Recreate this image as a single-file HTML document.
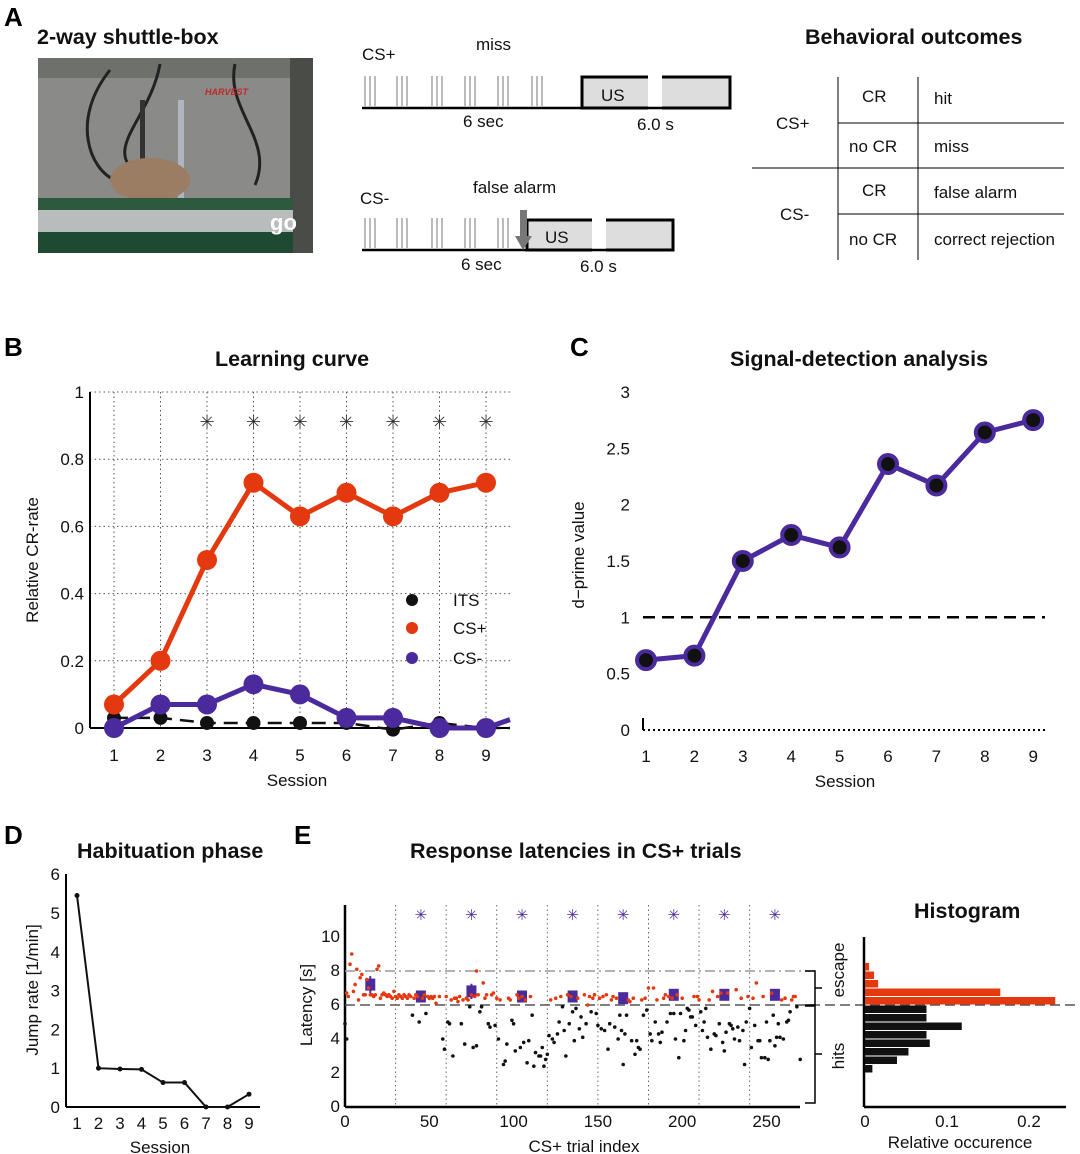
<!DOCTYPE html>
<html><head><meta charset="utf-8"><style>
body{margin:0;background:#fff;}
svg{display:block;font-family:"Liberation Sans",Arial,sans-serif;}
.t{font-size:17px;fill:#111}
.h{font-size:21.5px;font-weight:bold;fill:#111}
.L{font-size:26px;font-weight:bold;fill:#000}
</style></head><body>
<svg id="fig" width="1080" height="1154" viewBox="0 0 1080 1154" xmlns="http://www.w3.org/2000/svg">
<g>
<text class="L" x="4" y="26">A</text>
<text class="h" x="37" y="44">2-way shuttle-box</text>
<g>
<rect x="38" y="58" width="275" height="195" fill="#8a8b88"/>
<rect x="38" y="58" width="275" height="20" fill="#6e706c"/>
<rect x="290" y="58" width="23" height="195" fill="#4a4c48"/>
<path d="M110 70 C70 120 90 170 115 180 M160 64 C150 120 100 150 140 175 M235 64 C225 110 275 140 255 185" stroke="#222" stroke-width="3" fill="none"/>
<rect x="178" y="100" width="6" height="130" fill="#b0b4c0"/>
<rect x="140" y="100" width="5" height="110" fill="#333"/>
<text x="205" y="95" font-size="9" font-weight="bold" fill="#c0282a" font-style="italic">HARVEST</text>
<ellipse cx="150" cy="180" rx="40" ry="22" fill="#9a7d62"/>
<rect x="38" y="198" width="255" height="12" fill="#2d5a3e"/>
<rect x="38" y="210" width="255" height="22" fill="#b9bcbc"/>
<rect x="38" y="232" width="255" height="21" fill="#1f4a32"/>
<text x="270" y="230" font-size="22" font-weight="bold" fill="#fff">go</text>
</g>
<g stroke="#bbb" stroke-width="2">
<line x1="365" y1="76" x2="365" y2="106"/><line x1="370" y1="76" x2="370" y2="106"/><line x1="375" y1="76" x2="375" y2="106"/>
<line x1="397" y1="76" x2="397" y2="106"/><line x1="402" y1="76" x2="402" y2="106"/><line x1="407" y1="76" x2="407" y2="106"/>
<line x1="432" y1="76" x2="432" y2="106"/><line x1="437" y1="76" x2="437" y2="106"/><line x1="442" y1="76" x2="442" y2="106"/>
<line x1="465" y1="76" x2="465" y2="106"/><line x1="470" y1="76" x2="470" y2="106"/><line x1="475" y1="76" x2="475" y2="106"/>
<line x1="498" y1="76" x2="498" y2="106"/><line x1="503" y1="76" x2="503" y2="106"/><line x1="508" y1="76" x2="508" y2="106"/>
<line x1="532" y1="76" x2="532" y2="106"/><line x1="537" y1="76" x2="537" y2="106"/><line x1="542" y1="76" x2="542" y2="106"/>
</g>
<rect x="582" y="77" width="148" height="31" fill="#ddd" stroke="#000" stroke-width="3"/>
<rect x="648" y="74" width="14" height="36" fill="#fff"/>
<line x1="362" y1="108" x2="730" y2="108" stroke="#000" stroke-width="2.5"/>
<text class="t" x="362" y="60">CS+</text><text class="t" x="476" y="50">miss</text>
<text class="t" x="601" y="101" font-size="18">US</text>
<text class="t" x="463" y="127">6 sec</text><text class="t" x="637" y="130">6.0 s</text>
<g stroke="#bbb" stroke-width="2">
<line x1="365" y1="218" x2="365" y2="248"/><line x1="370" y1="218" x2="370" y2="248"/><line x1="375" y1="218" x2="375" y2="248"/>
<line x1="397" y1="218" x2="397" y2="248"/><line x1="402" y1="218" x2="402" y2="248"/><line x1="407" y1="218" x2="407" y2="248"/>
<line x1="432" y1="218" x2="432" y2="248"/><line x1="437" y1="218" x2="437" y2="248"/><line x1="442" y1="218" x2="442" y2="248"/>
<line x1="465" y1="218" x2="465" y2="248"/><line x1="470" y1="218" x2="470" y2="248"/><line x1="475" y1="218" x2="475" y2="248"/>
<line x1="498" y1="218" x2="498" y2="248"/><line x1="503" y1="218" x2="503" y2="248"/><line x1="508" y1="218" x2="508" y2="248"/>
</g>
<rect x="527" y="220" width="146" height="30" fill="#ddd" stroke="#000" stroke-width="3"/>
<rect x="592" y="217" width="14" height="36" fill="#fff"/>
<line x1="362" y1="250" x2="673" y2="250" stroke="#000" stroke-width="2.5"/>
<rect x="520" y="210" width="7" height="28" fill="#777"/><polygon points="515,236 532,236 523,250" fill="#777"/>
<text class="t" x="360" y="204">CS-</text><text class="t" x="473" y="193">false alarm</text>
<text class="t" x="545" y="243" font-size="18">US</text>
<text class="t" x="461" y="270">6 sec</text><text class="t" x="580" y="272">6.0 s</text>
<g>
<text class="h" x="805" y="44">Behavioral outcomes</text>
<g stroke="#000" stroke-width="1">
<line x1="838" y1="77" x2="838" y2="260"/><line x1="918" y1="77" x2="918" y2="260"/>
<line x1="838" y1="123" x2="1064" y2="123"/><line x1="752" y1="168" x2="1064" y2="168"/><line x1="838" y1="214" x2="1064" y2="214"/>
</g>
<text class="t" x="776" y="129">CS+</text><text class="t" x="780" y="220">CS-</text>
<text class="t" x="862" y="102">CR</text><text class="t" x="849" y="152">no CR</text>
<text class="t" x="862" y="196">CR</text><text class="t" x="849" y="245">no CR</text>
<text class="t" x="934" y="104">hit</text><text class="t" x="934" y="152">miss</text>
<text class="t" x="934" y="198">false alarm</text><text class="t" x="934" y="245">correct rejection</text>
</g>
</g>
<text class="L" x="4" y="356">B</text>
<text class="h" x="215" y="366">Learning curve</text>
<text class="L" x="570" y="356">C</text>
<text class="h" x="730" y="366">Signal-detection analysis</text>
<text class="L" x="4" y="844">D</text>
<text class="h" x="77" y="858">Habituation phase</text>
<text class="L" x="294" y="844">E</text>
<text class="h" x="410" y="858">Response latencies in CS+ trials</text>
<text class="h" x="914" y="918" font-size="19">Histogram</text>
<g id="gB"></g>
<g id="gC"></g>
<g id="gD"></g>
<g id="gE"></g>
<g id="gH"></g>
</svg>
<script>
const sessions=[1,2,3,4,5,6,7,8,9];
const csPlus=[0.07,0.2,0.5,0.73,0.63,0.7,0.63,0.7,0.73];
const csMinus=[0,0.07,0.07,0.13,0.1,0.03,0.03,0,0];
const its=[0.03,0.03,0.015,0.015,0.015,0.015,-0.005,0.015,0];
const sigSessions=[3,4,5,6,7,8,9];
const bTicks=[0,0.2,0.4,0.6,0.8,1];
const dprime=[0.62,0.66,1.5,1.73,1.62,2.36,2.17,2.64,2.75];
const cTicks=[0,0.5,1,1.5,2,2.5,3];
const jumpRate=[5.45,1,0.98,0.97,0.63,0.63,0,0,0.33];
const dTicks=[0,1,2,3,4,5,6];
const hitTrials=[0,1,40,44,48,58,59,61,62,64,69,71,74,76,78,80,81,85,86,89,91,94,95,96,99,100,101,104,106,108,109,111,112,113,115,116,117,118,119,120,121,123,124,126,127,129,130,131,133,135,136,137,139,140,141,143,146,149,150,152,154,156,157,160,162,163,164,165,166,167,170,172,173,174,175,177,179,181,182,184,186,187,188,191,193,195,196,198,199,201,202,203,204,205,206,208,211,212,213,214,215,217,219,220,222,224,225,226,228,229,230,231,233,234,236,237,238,240,241,243,245,246,247,249,250,251,252,254,255,256,257,258,260,262,263,264,268,270];
const hitLat=[4.9,4.0,5.4,5.0,5.5,4.0,3.4,5.0,4.9,3.0,4.9,3.7,5.9,3.5,3.6,5.6,5.9,4.9,4.7,4.8,4.0,2.5,2.7,3.7,5.1,4.9,3.3,3.5,3.8,2.6,3.9,5.4,2.4,3.2,3.0,3.0,3.5,2.4,2.8,3.1,4.2,4.0,3.8,4.3,5.0,5.9,4.5,3.0,4.9,5.6,3.9,5.8,4.6,5.3,4.1,4.9,5.6,5.5,4.8,4.6,4.5,3.4,4.9,4.7,4.0,5.4,4.5,2.5,4.3,5.4,3.9,3.1,3.9,3.5,3.4,5.4,5.7,4.3,3.9,5.0,4.3,3.8,4.4,5.0,5.5,5.5,4.0,2.9,5.5,3.9,4.5,5.8,5.7,5.3,5.3,4.8,5.6,4.5,5.0,5.8,4.1,3.4,4.3,4.2,4.9,3.8,3.3,4.4,4.9,4.8,4.6,4.0,4.7,3.9,4.5,2.5,5.0,5.8,3.5,4.8,3.9,3.9,2.9,2.9,5.0,2.8,3.9,5.4,3.6,4.1,4.9,4.1,4.0,5.0,5.1,5.6,5.9,2.8];
const escTrials=[1,2,3,4,5,6,7,8,9,10,11,12,13,14,15,16,17,18,19,20,21,22,23,24,25,26,27,28,29,30,31,32,33,34,35,36,37,38,39,41,42,43,46,47,49,50,51,52,53,54,56,60,63,65,66,67,68,70,72,73,75,77,78,79,82,83,84,87,88,90,92,97,98,102,103,105,107,110,122,125,128,132,134,138,142,144,145,147,148,151,153,155,158,159,161,168,169,171,176,178,180,183,185,189,190,192,194,197,200,207,209,210,216,218,221,223,227,232,235,239,242,244,248,253,259,261,265,266,267];
const escLat=[6.7,6.5,8.4,9.0,6.8,7.2,8.1,6.3,7.6,7.8,6.6,6.6,7.5,7.0,6.6,6.6,6.5,6.6,8.1,8.3,6.4,6.6,6.7,6.6,6.5,6.6,6.5,6.4,6.8,6.5,6.4,6.6,6.5,6.4,6.6,6.5,6.4,6.6,6.5,6.4,6.6,6.5,6.4,6.6,6.5,6.4,6.5,6.4,6.5,6.1,6.5,6.5,6.3,6.4,6.4,6.2,6.5,6.3,6.4,6.3,6.6,6.5,8.0,6.6,7.3,6.4,6.6,6.6,6.7,6.4,6.3,6.4,6.3,6.6,6.4,6.5,6.3,6.5,6.3,6.4,6.5,6.6,6.5,6.4,6.6,6.0,6.5,6.4,6.6,6.4,6.5,6.6,6.3,6.5,6.4,6.3,6.2,6.4,6.3,6.4,7.0,7.0,6.3,6.4,6.6,6.5,6.4,6.6,6.4,6.5,6.5,6.3,6.3,6.8,6.5,6.7,6.7,6.9,6.4,6.5,6.4,7.3,6.5,6.7,6.3,6.4,6.3,6.5,6.5];
const blockTrials=[15,45,75,105,135,165,195,225,255];
const blockMean=[7.2,6.5,6.8,6.5,6.5,6.4,6.6,6.6,6.6];
const blockErr=[0.5,0.15,0.45,0.15,0.15,0.15,0.2,0.15,0.15];
const starTrials=[45,75,105,135,165,195,225,255];
const eXTicks=[0,50,100,150,200,250];
const eYTicks=[0,2,4,6,8,10];
const escBins=[8.25,7.75,7.25,6.75,6.25];
const escFreq=[0.005,0.011,0.016,0.165,0.232];
const hitBins=[5.75,5.25,4.75,4.25,3.75,3.25,2.75,2.25];
const hitFreq=[0.075,0.075,0.118,0.075,0.079,0.053,0.039,0.009];
const hTicks=[0,0.1,0.2];

const NS='http://www.w3.org/2000/svg';
function mk(p,tag,at,txt){const e=document.createElementNS(NS,tag);for(const k in at)e.setAttribute(k,at[k]);if(txt!==undefined)e.textContent=txt;p.appendChild(e);return e;}
const OR='#e4380e',PU='#4b2a9e';

(function(){
const g=document.getElementById('gB');
const x=s=>114+(s-1)*46.5, y=v=>728-v*336;
bTicks.forEach(t=>{if(t>0){const l=mk(g,'line',{x1:90,x2:510,y1:y(t),y2:y(t),stroke:'#555','stroke-dasharray':'1.5 3'});}
const tx=mk(g,'text',{x:84,y:y(t)+6,'text-anchor':'end',class:'t'},String(t));});
sessions.forEach(s=>{const l=mk(g,'line',{x1:x(s),x2:x(s),y1:392,y2:728,stroke:'#555','stroke-dasharray':'1.5 3'});
const tx=mk(g,'text',{x:x(s),y:761,'text-anchor':'middle',class:'t'},String(s));});
mk(g,'line',{x1:90,x2:90,y1:392,y2:728,stroke:'#000','stroke-width':2});
mk(g,'line',{x1:90,x2:510,y1:728,y2:728,stroke:'#000','stroke-width':2});
const xl=mk(g,'text',{x:297,y:786,'text-anchor':'middle',class:'t'},'Session');
const yl=mk(g,'text',{x:38,y:560,'text-anchor':'middle',class:'t',transform:'rotate(-90 38 560)'},'Relative CR-rate');
sigSessions.forEach(s=>{const a=mk(g,'text',{x:x(s),y:428,'text-anchor':'middle','font-size':'18',fill:'#333'},'✳');});
const pl=(vals,col,w,dash,extra)=>{let pts=sessions.map((s,i)=>x(s)+','+y(vals[i]));if(extra)pts.push(extra);const p=mk(g,'polyline',{points:pts.join(' '),fill:'none',stroke:col,'stroke-width':w});if(dash)p.setAttribute('stroke-dasharray',dash);return p;};
let p=pl(its,'#111',2.5,'14 8','510,'+y(0));
sessions.forEach((s,i)=>{const c=mk(g,'circle',{cx:x(s),cy:y(its[i]),r:7,fill:'#111'});});
p=pl(csPlus,OR,5);
sessions.forEach((s,i)=>{const c=mk(g,'circle',{cx:x(s),cy:y(csPlus[i]),r:10,fill:OR});});
p=pl(csMinus,PU,5,null,'510,'+y(0.025));
sessions.forEach((s,i)=>{const c=mk(g,'circle',{cx:x(s),cy:y(csMinus[i]),r:10,fill:PU});});
[['ITS','#111',600],['CS+',OR,628],['CS-',PU,658]].forEach(([n,c,yy])=>{const lg=mk(g,'g',{});
mk(lg,'circle',{cx:412,cy:yy,r:6,fill:c});mk(lg,'text',{x:453,y:yy+6,class:'t','font-size':'15'},n);});
})();

(function(){
const g=document.getElementById('gC');
const x=s=>646+(s-1)*48.4, y=v=>730-v*112.7;
cTicks.forEach(t=>{const tx=mk(g,'text',{x:630,y:y(t)+6,'text-anchor':'end',class:'t'},String(t));});
sessions.forEach(s=>{const tx=mk(g,'text',{x:x(s),y:762,'text-anchor':'middle',class:'t'},String(s));});
mk(g,'line',{x1:643,x2:1045,y1:730,y2:730,stroke:'#000','stroke-width':2,'stroke-dasharray':'2 3'});
mk(g,'line',{x1:643,x2:643,y1:718,y2:730,stroke:'#000','stroke-width':2});
const d=mk(g,'line',{x1:643,x2:1045,y1:y(1),y2:y(1),stroke:'#000','stroke-width':2.5,'stroke-dasharray':'12 7'});
const xl=mk(g,'text',{x:845,y:787,'text-anchor':'middle',class:'t'},'Session');
const yl=mk(g,'text',{x:584,y:555,'text-anchor':'middle',class:'t',transform:'rotate(-90 584 555)'},'d−prime value');
const p=mk(g,'polyline',{points:sessions.map((s,i)=>x(s)+','+y(dprime[i])).join(' '),fill:'none',stroke:PU,'stroke-width':5});
sessions.forEach((s,i)=>{const c=mk(g,'circle',{cx:x(s),cy:y(dprime[i]),r:9,fill:'#111',stroke:PU,'stroke-width':4});});
})();

(function(){
const g=document.getElementById('gD');
const x=s=>77+(s-1)*21.5, y=v=>1107-v*38.8;
dTicks.forEach(t=>{const tx=mk(g,'text',{x:60,y:y(t)+6,'text-anchor':'end',class:'t'},String(t));});
sessions.forEach(s=>{const tx=mk(g,'text',{x:x(s),y:1129,'text-anchor':'middle',class:'t'},String(s));});
mk(g,'line',{x1:66,x2:66,y1:874,y2:1107,stroke:'#000','stroke-width':2});
mk(g,'line',{x1:66,x2:260,y1:1107,y2:1107,stroke:'#000','stroke-width':2});
const xl=mk(g,'text',{x:160,y:1153,'text-anchor':'middle',class:'t'},'Session');
const yl=mk(g,'text',{x:38,y:990,'text-anchor':'middle',class:'t',transform:'rotate(-90 38 990)'},'Jump rate [1/min]');
const p=mk(g,'polyline',{points:sessions.map((s,i)=>x(s)+','+y(jumpRate[i])).join(' '),fill:'none',stroke:'#111','stroke-width':2});
sessions.forEach((s,i)=>{const c=mk(g,'circle',{cx:x(s),cy:y(jumpRate[i]),r:2.5,fill:'#111'});});
})();

(function(){
const g=document.getElementById('gE');
const x=t=>345+t*1.686, y=v=>1107-v*17;
for(let t=30;t<=240;t+=30){const l=mk(g,'line',{x1:x(t),x2:x(t),y1:905,y2:1107,stroke:'#666','stroke-dasharray':'1.5 3'});}
eYTicks.forEach(t=>{const tx=mk(g,'text',{x:340,y:y(t)+5,'text-anchor':'end',class:'t','font-size':'15'},String(t));});
eXTicks.forEach(t=>{const tx=mk(g,'text',{x:x(t),y:1127,'text-anchor':'middle',class:'t','font-size':'15'},String(t));});
mk(g,'line',{x1:345,x2:345,y1:905,y2:1107,stroke:'#000','stroke-width':2.5});
mk(g,'line',{x1:345,x2:800,y1:1107,y2:1107,stroke:'#000','stroke-width':2.5});
mk(g,'line',{x1:345,x2:815,y1:y(8),y2:y(8),stroke:'#999','stroke-width':1.5,'stroke-dasharray':'10 4 2 4'});
mk(g,'line',{x1:345,x2:1075,y1:y(6),y2:y(6),stroke:'#555','stroke-width':1.5,'stroke-dasharray':'10 5'});
mk(g,'path',{d:'M805 971 H815 V1005 H805 M815 988 H822 M805 1006 H815 V1103 H805 M815 1054 H822',fill:'none',stroke:'#000','stroke-width':1.5});
let t=mk(g,'text',{x:844,y:970,'text-anchor':'middle',class:'t','font-size':'15',transform:'rotate(-90 844 970)'},'escape');
t=mk(g,'text',{x:844,y:1056,'text-anchor':'middle',class:'t','font-size':'15',transform:'rotate(-90 844 1056)'},'hits');
t=mk(g,'text',{x:584,y:1152,'text-anchor':'middle',class:'t'},'CS+ trial index');
t=mk(g,'text',{x:312,y:1005,'text-anchor':'middle',class:'t','font-size':'15',transform:'rotate(-90 312 1005)'},'Latency [s]');
starTrials.forEach(b=>{const s=mk(g,'text',{x:x(b),y:920,'text-anchor':'middle','font-size':'15',fill:PU},'✳');});
hitTrials.forEach((tr,i)=>{const c=mk(g,'circle',{cx:x(tr),cy:y(hitLat[i]),r:1.8,fill:'#111'});});
blockTrials.forEach((b,i)=>{const e=mk(g,'line',{x1:x(b),x2:x(b),y1:y(blockMean[i]+blockErr[i]),y2:y(blockMean[i]-blockErr[i]),stroke:PU,'stroke-width':2});
const r=mk(g,'rect',{x:x(b)-5,y:y(blockMean[i])-6,width:10,height:12,fill:PU});});
escTrials.forEach((tr,i)=>{const c=mk(g,'circle',{cx:x(tr),cy:y(escLat[i]),r:1.8,fill:OR});});
})();

(function(){
const g=document.getElementById('gH');
const x=v=>865+v*820, y=v=>1107-v*17;
mk(g,'line',{x1:864,x2:864,y1:937,y2:1107,stroke:'#000','stroke-width':2.5});
mk(g,'line',{x1:864,x2:1066,y1:1107,y2:1107,stroke:'#000','stroke-width':2.5});
hTicks.forEach(t=>{const tx=mk(g,'text',{x:x(t),y:1127,'text-anchor':'middle',class:'t','font-size':'15'},String(t));});
const tl=mk(g,'text',{x:960,y:1148,'text-anchor':'middle',class:'t','font-size':'15'},'Relative occurence');
escBins.forEach((b,i)=>{const r=mk(g,'rect',{x:865,y:y(b+0.25)+0.5,width:escFreq[i]*820,height:7.5,fill:OR});});
hitBins.forEach((b,i)=>{const r=mk(g,'rect',{x:865,y:y(b+0.25)+0.5,width:hitFreq[i]*820,height:7.5,fill:'#111'});});
})();
</script>
</body></html>
